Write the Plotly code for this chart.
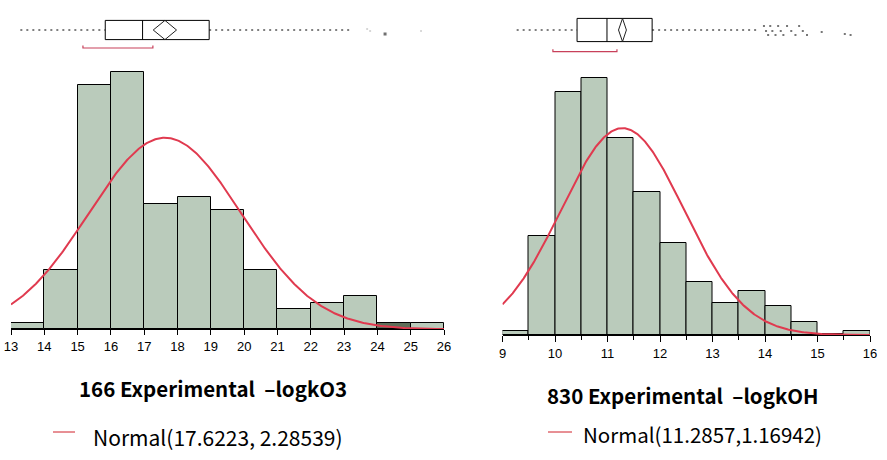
import numpy as np
import plotly.graph_objects as go

# ---------------- data: 166 Experimental -logkO3 ----------------
o3_bin_lo = [13, 14, 15, 16, 17, 18, 19, 20, 21, 22, 23, 24, 25]
o3_counts = [1, 9, 37, 39, 19, 20, 18, 9, 3, 4, 5, 1, 1]
o3_ticks = list(range(13, 27))
o3_n = 166
o3_mean = 17.6223
o3_sd = 2.28539
o3_box = [13.28, 15.83, 16.95, 18.95, 23.18]   # whisker lo, q1, median, q3, whisker hi
o3_mean_ci = [17.27, 17.97]
o3_outliers = [23.69, 23.78, 24.23, 25.31]
o3_shortest_half = [15.16, 17.26]

# ---------------- data: 830 Experimental -logkOH ----------------
oh_bin_lo = [9.0, 9.5, 10.0, 10.5, 11.0, 11.5, 12.0, 12.5, 13.0, 13.5, 14.0, 14.5, 15.0, 15.5]
oh_counts = [3, 68, 166, 176, 135, 98, 63, 36, 22, 30, 20, 9, 1, 3]
oh_ticks = list(range(9, 17))
oh_n = 830
oh_mean = 11.2857
oh_sd = 1.16942
oh_box = [9.27, 10.42, 10.99, 11.85, 13.90]
oh_mean_ci = [11.21, 11.36]
oh_outliers = [13.98, 14.02, 14.06, 14.10, 14.14, 14.20, 14.25, 14.30, 14.35,
               14.42, 14.50, 14.58, 14.65, 14.72, 14.80, 15.08, 15.52, 15.63]
oh_shortest_half = [9.96, 11.18]

# ---------------- styling ----------------
W, H = 887, 460
BAR = "#bacbbb"
BAR_DARK = "#5e6e59"
CURVE = "#e03a4f"
BRACKET = "#c8405a"
TICKFONT = dict(family="Liberation Sans, Arial, sans-serif", size=13, color="black")

def px_x(p):
    return p / W

def px_y(p):
    return (H - p) / H

fig = go.Figure()

def add_panel(xa, ya, yb, bin_lo, counts, bw, n, mean, sd, box, ci, outliers, sh,
              colors, box_half, br_y, out_jit, out_sizes, out_color):
    centers = [b + bw / 2 for b in bin_lo]
    fig.add_trace(go.Bar(x=centers, y=counts, width=bw,
                         marker=dict(color=colors, line=dict(color="black", width=1)),
                         xaxis=xa, yaxis=ya, showlegend=False))
    lo = bin_lo[0]
    hi = bin_lo[-1] + bw
    xs = np.linspace(lo, hi, 400)
    ys = n * bw * np.exp(-0.5 * ((xs - mean) / sd) ** 2) / (sd * np.sqrt(2 * np.pi))
    fig.add_trace(go.Scatter(x=xs, y=ys, mode="lines", line=dict(color=CURVE, width=2),
                             xaxis=xa, yaxis=ya, showlegend=False, hoverinfo="skip"))
    # box plot
    wl, q1, med, q3, wh = box
    for a, b in [(wl, q1), (q3, wh)]:
        fig.add_trace(go.Scatter(x=[a, b], y=[0, 0], mode="lines",
                                 line=dict(color="black", width=1, dash="2px,4px"),
                                 xaxis=xa, yaxis=yb, showlegend=False, hoverinfo="skip"))
    fig.add_trace(go.Scatter(x=[q1, q3, q3, q1, q1],
                             y=[box_half, box_half, -box_half, -box_half, box_half],
                             mode="lines", line=dict(color="black", width=1),
                             xaxis=xa, yaxis=yb, showlegend=False, hoverinfo="skip"))
    fig.add_trace(go.Scatter(x=[med, med], y=[box_half, -box_half], mode="lines",
                             line=dict(color="black", width=1),
                             xaxis=xa, yaxis=yb, showlegend=False, hoverinfo="skip"))
    fig.add_trace(go.Scatter(x=[ci[0], mean, ci[1], mean, ci[0]],
                             y=[0, box_half, 0, -box_half, 0], mode="lines",
                             line=dict(color="#222222", width=1),
                             xaxis=xa, yaxis=yb, showlegend=False, hoverinfo="skip"))
    fig.add_trace(go.Scatter(x=outliers, y=out_jit, mode="markers",
                             marker=dict(symbol="square", size=out_sizes, color=out_color),
                             xaxis=xa, yaxis=yb, showlegend=False, hoverinfo="skip"))
    fig.add_trace(go.Scatter(x=[sh[0], sh[0], sh[1], sh[1]],
                             y=[br_y + 0.12, br_y, br_y, br_y + 0.12], mode="lines",
                             line=dict(color=BRACKET, width=1.2),
                             xaxis=xa, yaxis=yb, showlegend=False, hoverinfo="skip"))

o3_colors = [BAR] * len(o3_counts)
o3_colors[o3_bin_lo.index(24)] = BAR_DARK
add_panel("x", "y", "y2", o3_bin_lo, o3_counts, 1.0, o3_n, o3_mean, o3_sd, o3_box,
          o3_mean_ci, o3_outliers, o3_shortest_half, o3_colors, 0.48, -0.9,
          [0.05, -0.05, -0.2, -0.05], [2, 2, 4, 2], "#333333")

oh_colors = [BAR] * len(oh_counts)
oh_jit = [(0.2 if i % 3 == 0 else (-0.05 if i % 3 == 1 else -0.25))
          for i in range(len(oh_outliers) - 3)] + [-0.1, -0.2, -0.25]
add_panel("x3", "y3", "y4", oh_bin_lo, oh_counts, 0.5, oh_n, oh_mean, oh_sd, oh_box,
          oh_mean_ci, oh_outliers, oh_shortest_half, oh_colors, 0.58, -1.08,
          oh_jit, 2, "#777777")

box_dom = [px_y(60), 1.0]

fig.update_layout(
    width=W, height=H, margin=dict(l=0, r=0, t=0, b=0, autoexpand=False),
    paper_bgcolor="white", plot_bgcolor="white", bargap=0,
    xaxis=dict(domain=[px_x(11), px_x(444)], range=[13, 26], anchor="y",
               tickmode="array", tickvals=o3_ticks, ticks="outside", ticklen=5,
               tickcolor="black", showline=True, linecolor="black", linewidth=1,
               showgrid=False, zeroline=False, tickfont=TICKFONT),
    yaxis=dict(domain=[px_y(329.3), px_y(60)], range=[0, 269.3 / 6.61], visible=False),
    yaxis2=dict(domain=box_dom, range=[-1.5, 1.5], visible=False, anchor="x"),
    xaxis3=dict(domain=[px_x(502.5), px_x(870)], range=[9, 16], anchor="y3",
                tickmode="array", tickvals=oh_ticks, ticks="outside", ticklen=6,
                tickcolor="black", showline=True, linecolor="black", linewidth=1,
                showgrid=False, zeroline=False, tickfont=TICKFONT,
                minor=dict(dtick=0.5, ticks="outside", ticklen=4, tickcolor="black",
                           showgrid=False)),
    yaxis3=dict(domain=[px_y(335), px_y(60)], range=[0, 275 / 1.461], visible=False),
    yaxis4=dict(domain=box_dom, range=[-1.5, 1.5], visible=False, anchor="x3"),
)

TITLEFONT = dict(family="Noto Sans CJK KR, Noto Sans, sans-serif", size=20.5, color="black")
LEGFONT = dict(family="Noto Sans CJK KR, Noto Sans, sans-serif", size=21, color="black")

fig.add_annotation(text="<b>166 Experimental  –logkO3</b>", x=px_x(213), y=px_y(388),
                   xref="paper", yref="paper", showarrow=False, font=TITLEFONT,
                   xanchor="center", yanchor="middle")
fig.add_annotation(text="<b>830 Experimental  –logkOH</b>", x=px_x(683), y=px_y(395),
                   xref="paper", yref="paper", showarrow=False, font=TITLEFONT,
                   xanchor="center", yanchor="middle")
fig.add_annotation(text="Normal(17.6223, 2.28539)", x=px_x(91), y=px_y(437),
                   xref="paper", yref="paper", showarrow=False, font=LEGFONT,
                   xanchor="left", yanchor="middle")
fig.add_annotation(text="Normal(11.2857,1.16942)", x=px_x(581), y=px_y(434),
                   xref="paper", yref="paper", showarrow=False,
                   font=dict(LEGFONT, size=20.5),
                   xanchor="left", yanchor="middle")
fig.add_shape(type="line", xref="paper", yref="paper", x0=px_x(53), x1=px_x(75),
              y0=px_y(432), y1=px_y(432), line=dict(color="#d0202a", width=1))
fig.add_shape(type="line", xref="paper", yref="paper", x0=px_x(548), x1=px_x(572),
              y0=px_y(432), y1=px_y(432), line=dict(color="#d0202a", width=1))

fig.write_html("out.html", config={"displayModeBar": False},
               post_script="document.body.style.margin='0';document.body.style.overflow='hidden';")
